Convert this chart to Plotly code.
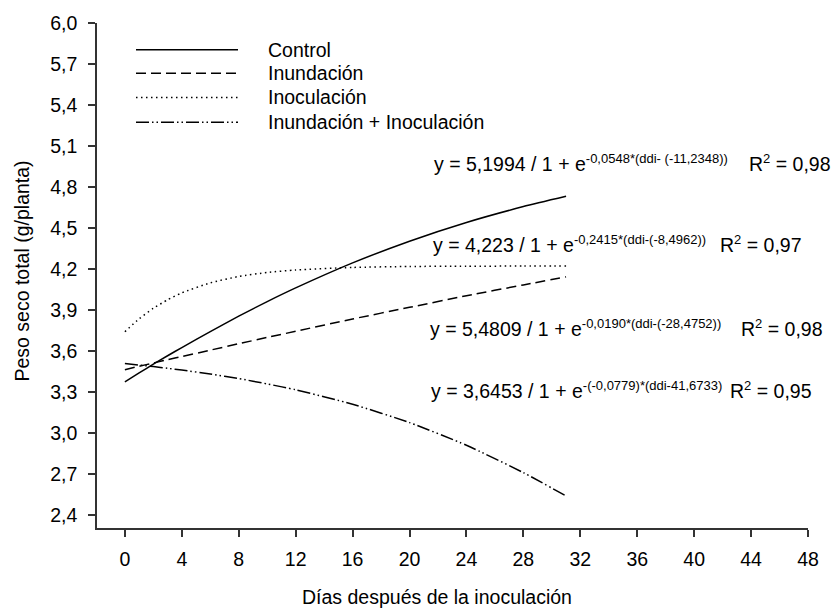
import plotly.graph_objects as go

# ---- data ----
days = [0, 1, 2, 3, 4, 6, 8, 10, 12, 16, 20, 24, 28, 31]
control = [3.375, 3.440, 3.504, 3.566, 3.626, 3.743, 3.856, 3.962, 4.062, 4.245, 4.404, 4.541, 4.657, 4.732]
inundacion = [3.464, 3.489, 3.513, 3.537, 3.560, 3.607, 3.654, 3.700, 3.745, 3.835, 3.920, 4.005, 4.084, 4.143]
inoculacion = [3.742, 3.836, 3.913, 3.975, 4.026, 4.099, 4.146, 4.175, 4.193, 4.212, 4.219, 4.221, 4.222, 4.223]
inund_inoc = [3.509, 3.498, 3.487, 3.474, 3.461, 3.432, 3.399, 3.360, 3.317, 3.211, 3.077, 2.911, 2.711, 2.540]

series_names = ["Control", "Inundación", "Inoculación", "Inundación + Inoculación"]
series_values = [control, inundacion, inoculacion, inund_inoc]
series_dash = ["solid", "10px,5px", "1.5px,3.5px", "13px,3px,1.5px,3px,1.5px,3px"]

eq_main = ["y = 5,1994 / 1 + e", "y = 4,223 / 1 + e", "y = 5,4809 / 1 + e", "y = 3,6453 / 1 + e"]
eq_sup = ["-0,0548*(ddi- (-11,2348))", "-0,2415*(ddi-(-8,4962))", "-0,0190*(ddi-(-28,4752))",
          "-(-0,0779)*(ddi-41,6733)"]
r2_values = ["0,98", "0,97", "0,98", "0,95"]

x_ticks = [0, 4, 8, 12, 16, 20, 24, 28, 32, 36, 40, 44, 48]
x_ticktext = [str(v) for v in x_ticks]
y_ticks = [2.4, 2.7, 3.0, 3.3, 3.6, 3.9, 4.2, 4.5, 4.8, 5.1, 5.4, 5.7, 6.0]
y_ticktext = ["2,4", "2,7", "3,0", "3,3", "3,6", "3,9", "4,2", "4,5", "4,8", "5,1", "5,4", "5,7", "6,0"]

# ---- layout geometry (pixels) ----
W, H = 831, 612
L, R, T, B = 97, 23, 16, 84
PW, PH = W - L - R, H - T - B

def px(xp):
    return (xp - L) / PW

def py(yp):
    return (H - B - yp) / PH

FONT = "Liberation Sans, Arial, sans-serif"
FS = 19.5
SUP = "<sup><span style='font-size:13px'>{}</span></sup>"

fig = go.Figure()
for name, vals, dash in zip(series_names, series_values, series_dash):
    fig.add_trace(go.Scatter(
        x=days, y=vals, mode="lines", name=name, showlegend=False,
        line=dict(color="black", width=1.5, dash=dash, shape="spline", smoothing=0.6),
    ))

shapes = []
annotations = []
# manual legend
leg_y = [43, 67, 91.5, 116.5]
for name, dash, yy in zip(series_names, series_dash, leg_y):
    shapes.append(dict(type="line", xref="paper", yref="paper",
                       x0=px(136), x1=px(238), y0=py(yy), y1=py(yy),
                       line=dict(color="black", width=1.5, dash=dash)))
    annotations.append(dict(text=name, xref="paper", yref="paper", x=px(266), y=py(yy),
                            xanchor="left", yanchor="middle", showarrow=False,
                            font=dict(family=FONT, size=FS, color="black")))

eq_x = [432, 431, 428, 429]
eq_y = [158, 240, 325, 388]
r2_x = [747, 718, 739, 728]
for m, s, r2, ex, ey, rx in zip(eq_main, eq_sup, r2_values, eq_x, eq_y, r2_x):
    annotations.append(dict(text=m + SUP.format(s), xref="paper", yref="paper", x=px(ex), y=py(ey),
                            xanchor="left", yanchor="middle", showarrow=False,
                            font=dict(family=FONT, size=FS, color="black")))
    annotations.append(dict(text="R" + SUP.format("2") + " = " + r2, xref="paper", yref="paper",
                            x=px(rx), y=py(ey),
                            xanchor="left", yanchor="middle", showarrow=False,
                            font=dict(family=FONT, size=FS, color="black")))

# axis titles
annotations.append(dict(text="Días después de la inoculación", xref="paper", yref="paper",
                        x=px(437), y=py(598), xanchor="center", yanchor="middle", showarrow=False,
                        font=dict(family=FONT, size=FS, color="black")))
annotations.append(dict(text="Peso seco total (g/planta)", xref="paper", yref="paper",
                        x=px(22), y=py(268), xanchor="center", yanchor="middle", showarrow=False,
                        textangle=-90, font=dict(family=FONT, size=FS, color="black")))

axis_common = dict(showgrid=False, zeroline=False, showline=True, linecolor="#333333", linewidth=1.5,
                   ticks="outside", ticklen=7, tickwidth=1.5, tickcolor="#333333",
                   tickfont=dict(family=FONT, size=FS, color="black"))

fig.update_layout(
    width=W, height=H,
    margin=dict(l=L, r=R, t=T, b=B, pad=0),
    paper_bgcolor="white", plot_bgcolor="white",
    showlegend=False,
    xaxis=dict(range=[-1.96, 48], tickvals=x_ticks, ticktext=x_ticktext,
               ticklabelstandoff=6, **axis_common),
    yaxis=dict(range=[2.306, 6.0], tickvals=y_ticks, ticktext=y_ticktext,
               ticklabelstandoff=7, **axis_common),
    shapes=shapes,
    annotations=annotations,
)

fig.write_html("out.html")
